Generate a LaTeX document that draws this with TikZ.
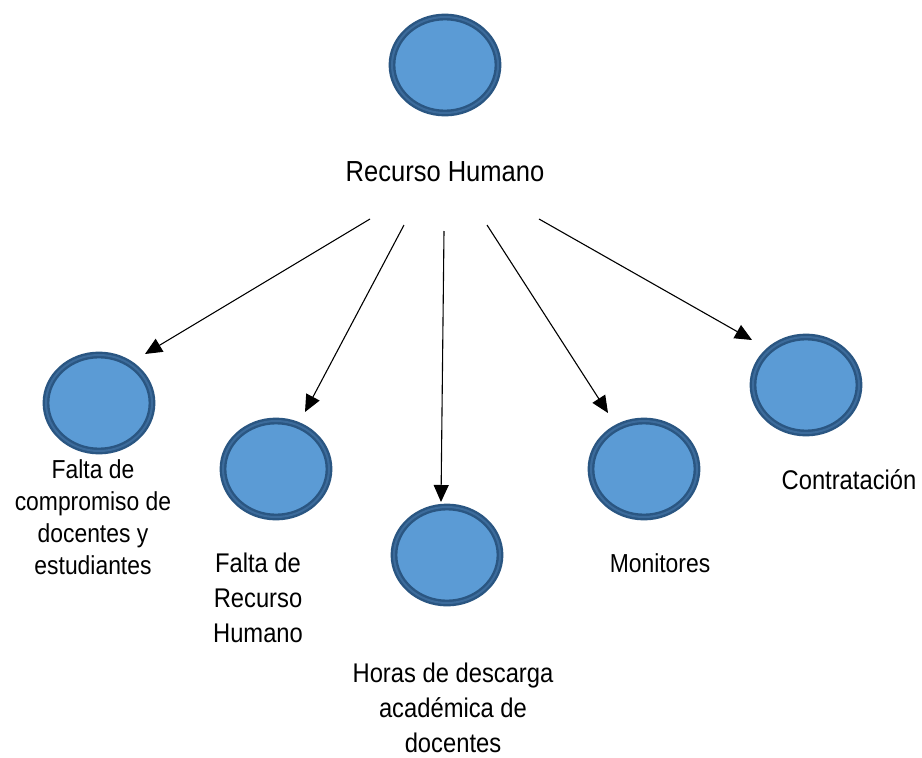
\documentclass[tikz,border=0pt]{standalone}
\usepackage{fontspec}
\setmainfont{Liberation Sans}[FakeStretch=0.88]
\usetikzlibrary{arrows.meta,shapes.geometric}
\definecolor{bubblefill}{HTML}{5B9BD5}
\definecolor{bubbleedge}{HTML}{2A5682}
\definecolor{bubblering}{HTML}{3C6B9B}
\tikzset{
  bubble/.style={ellipse,draw=bubbleedge,fill=bubblefill,line width=2.4pt,
    double=bubblering,double distance=2pt,minimum width=106pt,minimum height=96pt,inner sep=0pt},
  fanarrow/.style={-{Triangle[length=17pt,width=15pt]},line width=1.1pt,draw=black},
  lbl/.style={align=center,font=\fontsize{27}{35}\selectfont,inner sep=0pt}
}
\begin{document}
\begin{tikzpicture}[x=1pt,y=-1pt]
\path[use as bounding box,fill=white] (0,0) rectangle (922,758);
% bubbles
\node[bubble] (top) at (445,65) {};
\node[bubble] (b1) at (99,403) {};
\node[bubble] (b2) at (276,469) {};
\node[bubble] (b3) at (447,555) {};
\node[bubble] (b4) at (644,469) {};
\node[bubble] (b5) at (806,385) {};
% labels
\node[lbl,font=\fontsize{29}{34}\selectfont] (rh) at (445,172) {Recurso Humano};
\node[lbl,font=\fontsize{26}{32}\selectfont] (l1) at (93,517)
  {Falta de\\compromiso de\\docentes y\\estudiantes};
\node[lbl] (l2) at (258,598) {Falta de\\Recurso\\Humano};
\node[lbl] (l3) at (453,708) {Horas de descarga\\académica de\\docentes};
\node[lbl,font=\fontsize{26}{32}\selectfont] (l4) at (660,563) {Monitores};
\node[lbl] (l5) at (849,480) {Contratación};
% arrow ends
\coordinate (s1) at (370,219); \coordinate (e1) at (145,354);
\coordinate (s2) at (404,225); \coordinate (e2) at (305,412);
\coordinate (s3) at (444,231); \coordinate (e3) at (441,502);
\coordinate (s4) at (487,225); \coordinate (e4) at (608,413);
\coordinate (s5) at (539,219); \coordinate (e5) at (752,340);
\foreach \i in {1,...,5}
  \draw[fanarrow] (s\i) -- (e\i);
\end{tikzpicture}
\end{document}
